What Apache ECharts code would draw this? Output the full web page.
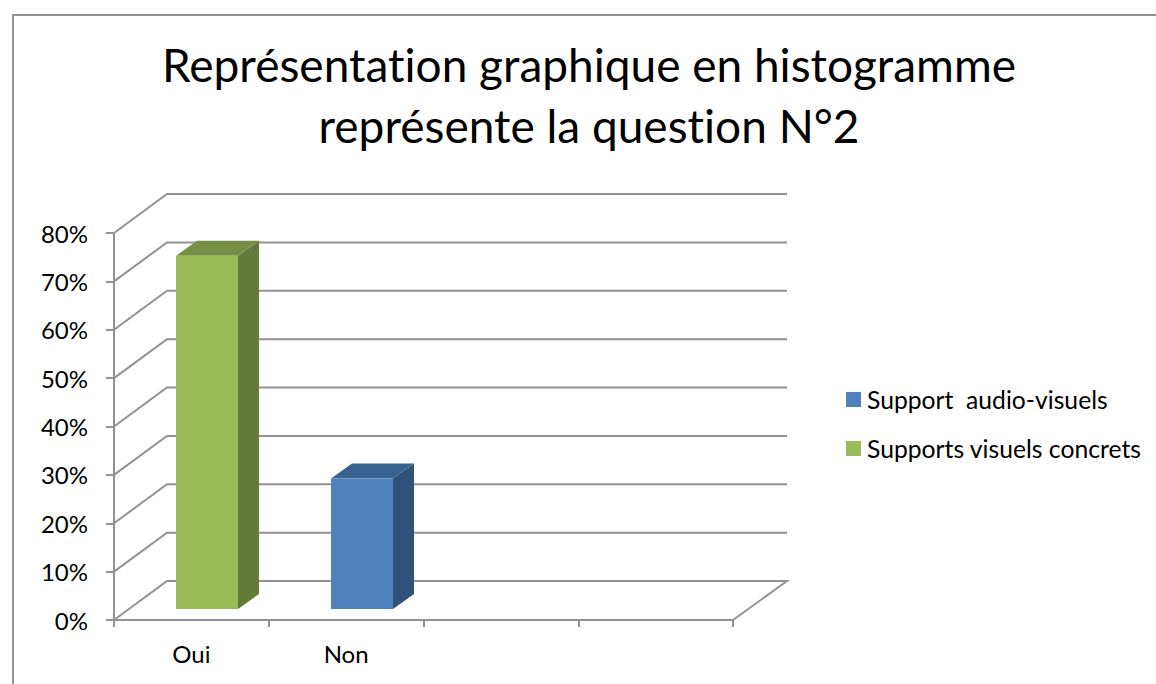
<!DOCTYPE html>
<html>
<head>
<meta charset="utf-8">
<style>
  html, body { margin: 0; padding: 0; background: #fff; }
  #chart { width: 1156px; height: 684px; }
  #chart text { font-variant-ligatures: none; }
</style>
<script src="https://cdn.jsdelivr.net/npm/echarts@6/dist/echarts.min.js"></script>
</head>
<body>
<div id="chart"></div>
<script>
var titleText = 'Représentation graphique en histogramme\nreprésente la question N°2';
var categories = ['Oui', 'Non', '', ''];
var yTicks = [0, 0.1, 0.2, 0.3, 0.4, 0.5, 0.6, 0.7, 0.8];
var audioVisuels = [null, 0.27];
var visuelsConcrets = [0.73, null];

var font = 'Lato';
var grey = '#929292';
var wallShift = [53, -39];
var barShift = [16, -11];
var barDepth = [21, -15];
var barWidth = 62;

function toPoints(values) {
  return values.map(function (v, i) { return [i, v]; })
    .filter(function (d) { return d[1] !== null; });
}

function renderWall(params, api) {
  var p = api.coord([0, api.value(0)]);
  var left = params.coordSys.x;
  var right = left + params.coordSys.width;
  var points = [[left, p[1]], [left + wallShift[0], p[1] + wallShift[1]], [right + wallShift[0] + 1, p[1] + wallShift[1]]];
  if (api.value(0) === 0) points.push([right, p[1]]);
  return {
    type: 'polyline',
    shape: { points: points },
    style: { fill: 'none', stroke: grey, lineWidth: 2 }
  };
}

function renderBar(front, top, side) {
  return function (params, api) {
    var base = api.coord([api.value(0), 0]);
    var head = api.coord([api.value(0), api.value(1)]);
    var x0 = Math.floor(base[0] + barShift[0] - barWidth / 2);
    var x1 = x0 + barWidth;
    var y0 = base[1] + barShift[1];
    var y1 = head[1] + barShift[1];
    var dx = barDepth[0], dy = barDepth[1];
    return {
      type: 'group',
      children: [
        { type: 'polygon', shape: { points: [[x1, y0], [x1 + dx, y0 + dy], [x1 + dx, y1 + dy], [x1, y1]] }, style: { fill: side } },
        { type: 'polygon', shape: { points: [[x0, y1], [x0 + dx, y1 + dy], [x1 + dx, y1 + dy], [x1, y1]] }, style: { fill: top } },
        { type: 'rect', shape: { x: x0, y: y1, width: barWidth, height: y0 - y1 }, style: { fill: front } }
      ]
    };
  };
}

var chart = echarts.init(document.getElementById('chart'), null, { renderer: 'svg' });
chart.setOption({
  animation: false,
  backgroundColor: '#fff',
  title: {
    text: titleText,
    left: 584,
    top: 29,
    textAlign: 'center',
    textStyle: { fontFamily: font, fontSize: 46, fontWeight: 'normal', color: '#000', lineHeight: 61 }
  },
  graphic: [{
    type: 'polyline',
    shape: { points: [[13, 684], [13, 15], [1156, 15]] },
    style: { fill: 'none', stroke: grey, lineWidth: 2 }
  }],
  legend: {
    left: 841,
    top: 382,
    orient: 'vertical',
    icon: 'rect',
    itemWidth: 15,
    itemHeight: 15,
    itemGap: 24,
    data: ['Support  audio-visuels', 'Supports visuels concrets'],
    textStyle: { fontFamily: font, fontSize: 24.7, color: '#000', padding: [0, 0, 0, 1] }
  },
  grid: { left: 114, right: 423, top: 233, bottom: 64 },
  xAxis: {
    type: 'category',
    data: categories,
    axisLine: { lineStyle: { color: grey, width: 2 } },
    axisTick: { show: true, alignWithLabel: false, length: 7, lineStyle: { color: grey, width: 2 } },
    axisLabel: { fontFamily: font, fontSize: 24, color: '#000', margin: 21, interval: 0 },
    splitLine: { show: false }
  },
  yAxis: {
    type: 'value',
    min: 0,
    max: 0.8,
    interval: 0.1,
    axisLine: { show: true, lineStyle: { color: grey, width: 2 } },
    axisTick: { show: true, length: 8, lineStyle: { color: grey, width: 2 } },
    axisLabel: {
      fontFamily: font, fontSize: 24, color: '#000', margin: 26,
      formatter: function (v) { return Math.round(v * 100) + '%'; }
    },
    splitLine: { show: false }
  },
  series: [
    {
      type: 'custom',
      name: 'wall',
      silent: true,
      z: 1,
      renderItem: renderWall,
      data: yTicks.map(function (v) { return [v]; }),
      encode: { y: 0 }
    },
    {
      type: 'custom',
      name: 'Support  audio-visuels',
      z: 3,
      itemStyle: { color: '#4f81bd' },
      renderItem: renderBar('#4f81bd', '#3a6291', '#30517a'),
      data: toPoints(audioVisuels),
      encode: { x: 0, y: 1 }
    },
    {
      type: 'custom',
      name: 'Supports visuels concrets',
      z: 3,
      itemStyle: { color: '#9bbb59' },
      renderItem: renderBar('#9bbb59', '#778f44', '#647a39'),
      data: toPoints(visuelsConcrets),
      encode: { x: 0, y: 1 }
    }
  ]
});
</script>
</body>
</html>
